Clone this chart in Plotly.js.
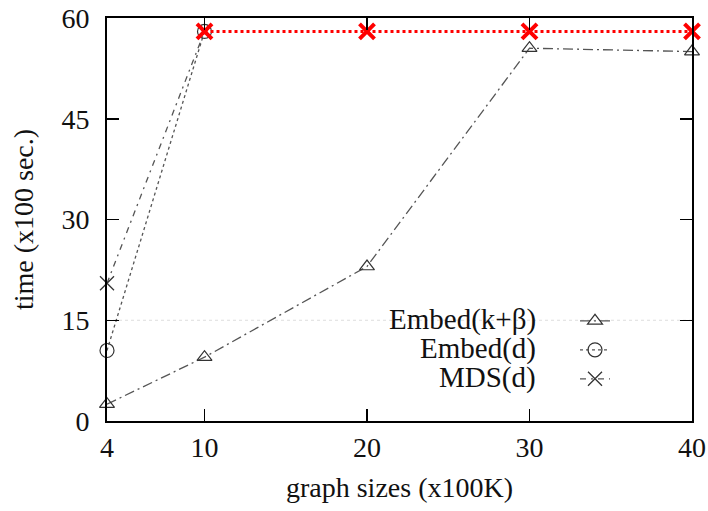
<!DOCTYPE html>
<html>
<head>
<meta charset="utf-8">
<script src="https://cdn.plot.ly/plotly-3.0.1.min.js"></script>
<style>html,body{margin:0;padding:0;background:#fff;}#chart{width:708px;height:511px;}</style>
</head>
<body>
<div id="chart"></div>
<script>
// Data
const graphSizes = [4, 10, 20, 30, 40];
const embedKB = [2.5, 9.5, 23, 55.5, 55];
const embedDSizes = [4, 10];
const embedD = [10.5, 58];
const mdsDSizes = [4, 10];
const mdsD = [20.5, 58];
const timeoutSizes = [10, 20, 30, 40];
const timeoutVals = [58, 58, 58, 58];
const seriesNames = ["Embed(k+\u03B2)", "Embed(d)", "MDS(d)"];
const xTicks = [4, 10, 20, 30, 40];
const yTicks = [0, 15, 30, 45, 60];
const gridAt = 15;

const grey = "#555";
const fam = "'Liberation Serif', 'Times New Roman', serif";
const fs = 28;

const traces = [
  {x: graphSizes, y: embedKB, mode: "lines+markers", name: "", showlegend: true,
   line: {color: grey, width: 1.3, dash: "10px,4px,2px,4px"},
   marker: {symbol: "triangle-up-open", size: 13, color: "#333", line: {width: 1.2}}, cliponaxis: false},
  {x: embedDSizes, y: embedD, mode: "lines+markers", name: "", showlegend: true,
   line: {color: grey, width: 1.3, dash: "dot"},
   marker: {symbol: "circle-open", size: 14, color: "#333", line: {width: 1.2}}, cliponaxis: false},
  {x: mdsDSizes, y: mdsD, mode: "lines+markers", name: "", showlegend: true,
   line: {color: grey, width: 1.3, dash: "6px,5px,2px,5px"},
   marker: {symbol: "x-thin-open", size: 14, color: "#333", line: {width: 1.3}}, cliponaxis: false},
  {x: timeoutSizes, y: timeoutVals, mode: "lines+markers", showlegend: false,
   line: {color: "#ff0000", width: 3, dash: "dot"},
   marker: {symbol: "x-thin-open", size: 15, color: "#ff0000", line: {width: 4, color: "#ff0000"}}, cliponaxis: false}
];

const tf = {family: fam, size: fs, color: "#111"};

const layout = {
  width: 708, height: 511,
  margin: {l: 107, r: 16, t: 18, b: 90},
  paper_bgcolor: "#fff", plot_bgcolor: "#fff",
  font: tf,
  showlegend: true,
  legend: {x: 0.80, y: 0.297, xanchor: "left", yanchor: "top", bgcolor: "rgba(0,0,0,0)",
           font: {family: fam, size: 20, color: "#111"}, tracegroupgap: 0, itemwidth: 30},
  xaxis: {range: [4, 40], tickvals: xTicks, ticktext: xTicks.map(String),
          ticks: "inside", ticklen: 12, tickwidth: 1.5, tickcolor: "#000",
          showline: true, linecolor: "#000", linewidth: 2, mirror: "allticks",
          showgrid: false, zeroline: false,
          tickfont: tf,
          title: {text: "graph sizes (x100K)", font: tf, standoff: 16}},
  yaxis: {range: [0, 60], tickvals: yTicks, ticktext: yTicks.map(String),
          ticks: "inside", ticklen: 12, tickwidth: 1.5, tickcolor: "#000",
          showline: true, linecolor: "#000", linewidth: 2, mirror: "allticks",
          showgrid: false, zeroline: false, ticklabelstandoff: 10,
          tickfont: tf,
          title: {text: "time (x100 sec.)", font: tf, standoff: 20}},
  shapes: [{type: "line", xref: "paper", x0: 0, x1: 1, yref: "y", y0: gridAt, y1: gridAt,
            line: {color: "#ddd", width: 1, dash: "dot"}, layer: "below"}],
  annotations: seriesNames.map((n, i) => ({
    text: n, xref: "paper", yref: "paper", x: 0.737, y: 0.252 - i * 0.072,
    xanchor: "right", yanchor: "middle", showarrow: false,
    font: {family: fam, size: 29, color: "#111"}
  }))
};

Plotly.newPlot("chart", traces, layout, {displayModeBar: false, staticPlot: true});
</script>
</body>
</html>
